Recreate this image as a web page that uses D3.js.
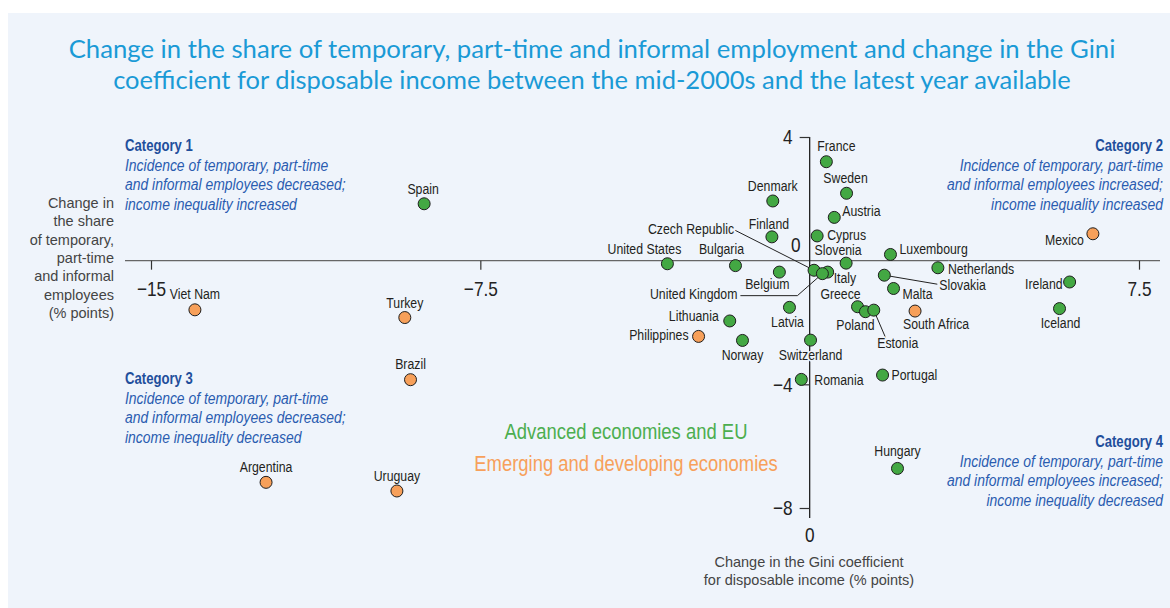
<!DOCTYPE html>
<html>
<head>
  <meta charset="utf-8">
  <title>Temporary employment and Gini change</title>
  <script src="https://d3js.org/d3.v7.min.js"></script>
  <style>
    body { margin: 0; background: #fff; }
    svg { display: block; }
    .narrow { font-family: "Liberation Sans", Arial, sans-serif; }
  </style>
</head>
<body>
<svg id="chart" width="1170" height="608"></svg>
<script>
// data
var countries = ["France","Sweden","Denmark","Austria","Finland","Cyprus","Spain","Mexico","Luxembourg",
  "United States","Bulgaria","Slovenia","Czech Republic","Italy","United Kingdom","Belgium","Netherlands",
  "Slovakia","Malta","Ireland","Greece","Poland","Estonia","South Africa","Iceland","Latvia","Lithuania",
  "Philippines","Norway","Switzerland","Romania","Portugal","Hungary","Viet Nam","Turkey","Brazil",
  "Argentina","Uruguay"];
var shareChange = [0.38,0.84,-0.84,0.56,-0.86,0.17,-8.78,6.45,1.84,
  -3.24,-1.69,0.83,0.10,0.41,0.29,-0.69,2.92,
  1.70,1.91,5.92,1.09,1.27,1.46,2.40,5.69,-0.46,-1.82,
  -2.53,-1.53,0.02,-0.19,1.66,2.00,-14.0,-9.22,-9.09,
  -12.38,-9.40];
var giniChange = [3.20,2.18,1.93,1.40,0.77,0.80,1.84,0.87,0.20,
  -0.10,-0.16,-0.08,-0.31,-0.37,-0.42,-0.37,-0.23,
  -0.47,-0.90,-0.69,-1.49,-1.65,-1.60,-1.63,-1.55,-1.51,-1.95,
  -2.45,-2.58,-2.57,-3.84,-3.70,-6.72,-1.59,-1.84,-3.85,
  -7.17,-7.45];
var groups = ["adv","adv","adv","adv","adv","adv","adv","emg","adv",
  "adv","adv","adv","adv","adv","adv","adv","adv",
  "adv","adv","adv","adv","adv","adv","emg","adv","adv","adv",
  "emg","adv","adv","adv","adv","adv","emg","emg","emg",
  "emg","emg"];
var xTicks = [-15, -7.5, 7.5];
var yTicks = [4, -4, -8];
var legendItems = ["Advanced economies and EU", "Emerging and developing economies"];

// label placement: dx, dy, anchor, optional leader points (relative to dot)
var labelPos = {
  "France": [10,-11,"middle"], "Sweden": [-1,-10,"middle"], "Denmark": [0,-10,"middle"],
  "Austria": [8,-1,"start"], "Finland": [-3,-8,"middle"], "Cyprus": [10,4,"start"],
  "Spain": [-1,-10,"middle"], "Mexico": [-9,11,"end"], "Luxembourg": [9,0,"start"],
  "United States": [-23,-10,"middle"], "Bulgaria": [-14,-12,"middle"], "Slovenia": [-8,-8,"middle"],
  "Czech Republic": [-80,-36,"end",[[-79,-40]]], "Italy": [6,11,"start"],
  "United Kingdom": [-85,25,"end",[[-25,22],[-82,22]]], "Belgium": [-12,17,"middle"],
  "Netherlands": [10,6,"start"], "Slovakia": [55,15,"start",[[53,9]]], "Malta": [9,11,"start"],
  "Ireland": [-7,7,"end"], "Greece": [-17,-8,"middle"], "Poland": [-10,18,"middle"],
  "Estonia": [24,38,"middle",[[12,28]]], "South Africa": [21,18,"middle"], "Iceland": [1,19,"middle"],
  "Latvia": [-2,20,"middle"], "Lithuania": [-11,0,"end"], "Philippines": [-10,4,"end"],
  "Norway": [0,20,"middle"], "Switzerland": [0,20,"middle"], "Romania": [13,6,"start"],
  "Portugal": [9,5,"start"], "Hungary": [0,-12,"middle"], "Viet Nam": [0,-11,"middle"],
  "Turkey": [0,-10,"middle"], "Brazil": [0,-11,"middle"], "Argentina": [0,-10,"middle"],
  "Uruguay": [0,-10,"middle"]
};

var bg = "#eff4fb";
var green = "#43a843", orange = "#f7a05a";
var catBlue = "#1f4f9c";
var squeeze = 0.82;   // no condensed face installed, so squeeze Liberation Sans

var svg = d3.select("#chart");
svg.append("rect").attr("x", 8).attr("y", 13).attr("width", 1162).attr("height", 595).attr("fill", bg);

var x = d3.scaleLinear().domain([-15, 7.5]).range([151, 1139]);
var y = d3.scaleLinear().domain([-8, 4]).range([508, 137]);

// condensed-looking text placed at (px,py)
function narrowText(parent, px, py, str, anchor) {
  return parent.append("text").attr("class", "narrow")
    .attr("transform", "translate(" + px + "," + py + ") scale(" + squeeze + ",1)")
    .attr("text-anchor", anchor || "start")
    .text(str);
}

// title, fitted to the reference widths
var title = [["Change in the share of temporary, part-time and informal employment and change in the Gini", 58, 1047],
             ["coefficient for disposable income between the mid-2000s and the latest year available", 89, 958]];
title.forEach(function(t) {
  var el = svg.append("text").attr("x", 592).attr("y", t[1]).attr("text-anchor", "middle")
    .attr("fill", "#1a9ad6").style("font-family", "Lato, 'Open Sans', sans-serif").style("font-size", "25px")
    .text(t[0]);
  var w = el.node().getComputedTextLength();
  el.style("font-size", (25 * t[2] / w).toFixed(2) + "px");
});

// axes lines
svg.append("line").attr("x1", 125).attr("x2", 1160).attr("y1", y(0)).attr("y2", y(0))
  .attr("stroke", "#666").attr("stroke-width", 1.3);
svg.append("line").attr("x1", x(0)).attr("x2", x(0)).attr("y1", y(4)).attr("y2", 518)
  .attr("stroke", "#222").attr("stroke-width", 1.3);

var xAxis = svg.append("g").attr("transform", "translate(0," + y(0) + ")")
  .call(d3.axisBottom(x).tickValues(xTicks).tickSize(9).tickPadding(11).tickFormat(d3.format("")));
var yAxis = svg.append("g").attr("transform", "translate(" + x(0) + ",0)")
  .call(d3.axisLeft(y).tickValues(yTicks).tickSize(10).tickPadding(7).tickFormat(d3.format("")));
[xAxis, yAxis].forEach(function(g) {
  g.select(".domain").remove();
  g.selectAll("line").attr("stroke", "#333").attr("stroke-width", 1.2);
  g.selectAll("text").attr("fill", "#222").attr("class", "narrow")
    .style("font-size", "21px").style("font-family", null)
    .attr("transform", "scale(" + squeeze + ",1)");
});
yAxis.selectAll("text").attr("x", -17 / squeeze);

narrowText(svg, x(0) - 9, y(0) - 9, "0", "end").attr("fill", "#222").style("font-size", "21px");
narrowText(svg, x(0), 542, "0", "middle").attr("fill", "#222").style("font-size", "21px");

// axis titles
var leftTitle = ["Change in", "the share", "of temporary,", "part-time", "and informal", "employees", "(% points)"];
svg.append("g").selectAll("text").data(leftTitle).enter().append("text")
  .attr("x", 114).attr("y", function(d, i) { return 208 + i * 18.3; })
  .attr("text-anchor", "end").attr("fill", "#444")
  .style("font-family", "'Liberation Sans', Arial, sans-serif").style("font-size", "14.5px")
  .text(function(d) { return d; });
var bottomTitle = ["Change in the Gini coefficient", "for disposable income (% points)"];
svg.append("g").selectAll("text").data(bottomTitle).enter().append("text")
  .attr("x", 809).attr("y", function(d, i) { return 567 + i * 17.5; })
  .attr("text-anchor", "middle").attr("fill", "#444")
  .style("font-family", "'Liberation Sans', Arial, sans-serif").style("font-size", "14.5px")
  .text(function(d) { return d; });

// category notes
var cats = [
  {x: 125, y: 151, anchor: "start", head: "Category 1", lines: ["Incidence of temporary, part-time", "and informal employees decreased;", "income inequality increased"]},
  {x: 1163, y: 151, anchor: "end", head: "Category 2", lines: ["Incidence of temporary, part-time", "and informal employees increased;", "income inequality increased"]},
  {x: 125, y: 384, anchor: "start", head: "Category 3", lines: ["Incidence of temporary, part-time", "and informal employees decreased;", "income inequality decreased"]},
  {x: 1163, y: 447, anchor: "end", head: "Category 4", lines: ["Incidence of temporary, part-time", "and informal employees increased;", "income inequality decreased"]}
];
cats.forEach(function(c) {
  var g = svg.append("g");
  narrowText(g, c.x, c.y, c.head, c.anchor).attr("fill", catBlue)
    .style("font-weight", "bold").style("font-size", "16px");
  c.lines.forEach(function(l, i) {
    narrowText(g, c.x, c.y + 19.7 * (i + 1), l, c.anchor).attr("fill", "#2a5cb0")
      .style("font-style", "italic").style("font-size", "17px");
  });
});

// legend
legendItems.forEach(function(d, i) {
  narrowText(svg, 626, 439 + i * 32, d, "middle").style("font-size", "22.5px")
    .attr("fill", i === 0 ? "#4cae4f" : orange);
});

// points
var points = countries.map(function(c, i) {
  return {name: c, sx: shareChange[i], gy: giniChange[i], group: groups[i]};
});

var leaders = points.filter(function(d) { return labelPos[d.name][3]; });
svg.append("g").selectAll("polyline").data(leaders).enter().append("polyline")
  .attr("fill", "none").attr("stroke", "#222").attr("stroke-width", 1)
  .attr("points", function(d) {
    var px = x(d.sx), py = y(d.gy);
    return [[px, py]].concat(labelPos[d.name][3].map(function(p) { return [px + p[0], py + p[1]]; }))
      .map(function(p) { return p.join(","); }).join(" ");
  });

var labels = svg.append("g");
points.forEach(function(d) {
  var lp = labelPos[d.name];
  narrowText(labels, x(d.sx) + lp[0], y(d.gy) + lp[1], d.name, lp[2])
    .attr("fill", "#231f20").style("font-size", "15px")
    .attr("stroke", bg).attr("stroke-width", 3).attr("paint-order", "stroke");
});

svg.append("g").selectAll("circle").data(points).enter().append("circle")
  .attr("cx", function(d) { return x(d.sx); })
  .attr("cy", function(d) { return y(d.gy); })
  .attr("r", 6)
  .attr("fill", function(d) { return d.group === "adv" ? green : orange; })
  .attr("stroke", "#1e1e1e").attr("stroke-width", 1);
</script>
</body>
</html>
